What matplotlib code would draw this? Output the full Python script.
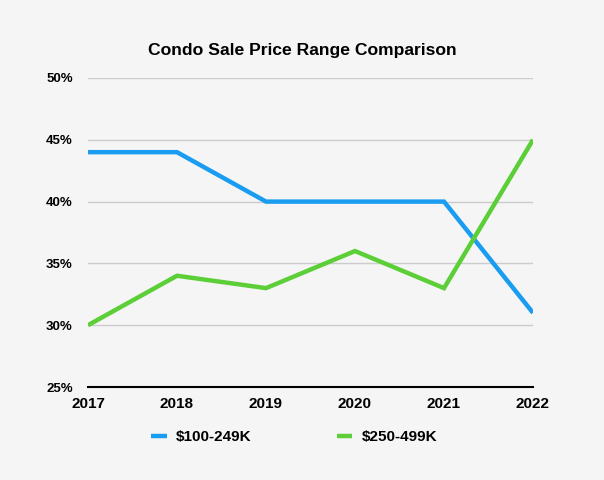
import matplotlib
matplotlib.use("Agg")
import matplotlib.pyplot as plt
from matplotlib.ticker import FuncFormatter

years = [2017, 2018, 2019, 2020, 2021, 2022]
series_names = ["$100-249K", "$250-499K"]
low_range = [44, 44, 40, 40, 40, 31]
mid_range = [30, 34, 33, 36, 33, 45]
y_ticks = [25, 30, 35, 40, 45, 50]
title = "Condo Sale Price Range Comparison"

plt.rcParams['font.family'] = ['Liberation Sans', 'DejaVu Sans']
bg = "#f5f5f5"
fig = plt.figure(figsize=(6.04, 4.80), dpi=100, facecolor=bg)
ax = fig.add_axes([88/604, 1-387/480, (533-88)/604, (387-78)/480], facecolor=bg)

l1, = ax.plot(years, low_range, color="#1a9cf0", lw=3.2, solid_joinstyle="miter",
              solid_capstyle="butt", label=series_names[0])
l2, = ax.plot(years, mid_range, color="#5ccf38", lw=3.2, solid_joinstyle="miter",
              solid_capstyle="butt", label=series_names[1])

ax.set_xlim(years[0], years[-1])
ax.set_ylim(y_ticks[0], y_ticks[-1])
ax.set_yticks(y_ticks)
ax.set_xticks(years)
ax.yaxis.set_major_formatter(FuncFormatter(lambda v, p: f"{int(v)}%"))
ax.grid(axis="y", color="#cccccc", lw=1)
ax.set_axisbelow(True)
for s in ["left", "right", "top"]:
    ax.spines[s].set_visible(False)
ax.spines["bottom"].set_color("black")
ax.spines["bottom"].set_linewidth(1.5)
ax.tick_params(axis="both", length=0)
ax.tick_params(axis="y", pad=11, labelsize=9.5)
ax.tick_params(axis="x", pad=7.5, labelsize=11)
for t in ax.get_xticklabels() + ax.get_yticklabels():
    t.set_fontweight("bold")

fig.text(0.5, 1-50/480, title, ha="center", va="center", fontsize=12.6, fontweight="bold")

leg = fig.legend(handles=[l1, l2], loc="center", bbox_to_anchor=(0.487, 1-437/480), ncol=2,
                 frameon=False, handlelength=1.0, columnspacing=5.6, handletextpad=0.6,
                 prop={"weight": "bold", "size": 11})

fig.savefig("out.png", dpi=100, facecolor=bg)
